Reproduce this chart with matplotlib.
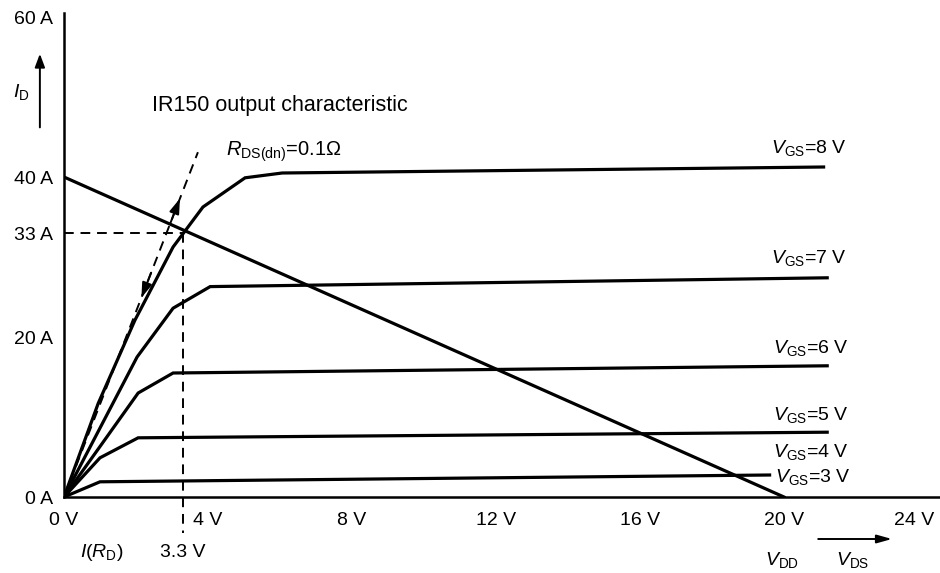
import matplotlib
matplotlib.use("Agg")
import matplotlib.pyplot as plt
import matplotlib.transforms as mtransforms

plt.rcParams['font.family'] = ['Liberation Sans', 'DejaVu Sans']
plt.rcParams['mathtext.fontset'] = 'custom'
plt.rcParams['mathtext.rm'] = 'Liberation Sans'
plt.rcParams['mathtext.it'] = 'Liberation Sans:italic'
plt.rcParams['mathtext.bf'] = 'Liberation Sans:bold'

# Output characteristic curves (V_DS in volts, I_D in amperes)
vgs8_v = [0, 0.95, 1.97, 3.03, 3.86, 5.03, 6.06, 21.1]
vgs8_i = [0, 11.7, 22.1, 31.25, 36.25, 39.9, 40.5, 41.25]
vgs7_v = [0, 2.03, 3.03, 4.06, 21.2]
vgs7_i = [0, 17.5, 23.6, 26.3, 27.4]
vgs6_v = [0, 2.06, 3.03, 21.2]
vgs6_i = [0, 13.0, 15.5, 16.4]
vgs5_v = [0, 1.0, 2.06, 21.2]
vgs5_i = [0, 4.9, 7.4, 8.1]
vgs3_v = [0, 1.0, 19.6]
vgs3_i = [0, 1.9, 2.75]

curves = [(vgs8_v, vgs8_i), (vgs7_v, vgs7_i), (vgs6_v, vgs6_i),
          (vgs5_v, vgs5_i), (vgs3_v, vgs3_i)]

# Curve labels: gate voltage, V position, I position
curve_labels = ["8", "7", "6", "5", "4", "3"]
curve_label_v = [19.65, 19.65, 19.7, 19.7, 19.7, 19.75]
curve_label_i = [43.6, 29.9, 18.6, 10.2, 5.6, 2.5]

# Load line: 40 A at V_DS = 0, zero current at V_DD = 20 V
load_v = [0, 20]
load_i = [40, 0]

# Operating point
op_v = 3.3
op_i = 33

# On-resistance line
rds_v = [0, 3.72]
rds_i = [0, 43.1]

x_ticks = [0, 4, 8, 12, 16, 20, 24]
x_tick_labels = ["0 V", "4 V", "8 V", "12 V", "16 V", "20 V", "24 V"]
y_ticks = [0, 20, 33, 40, 60]
y_tick_labels = ["0 A", "20 A", "33 A", "40 A", "60 A"]

fig = plt.figure(figsize=(9.4, 5.73), dpi=100)
ax = fig.add_axes([64 / 940, 76 / 573, 876 / 940, 497 / 573])
ax.set_xlim(0, 876 / 36)
ax.set_ylim(0, 497 / 8)

LW = 2.3
DASH = (0, (5, 3.5))
for v, i in curves:
    ax.plot(v, i, color='black', lw=LW, solid_joinstyle='miter', zorder=3)

ax.plot(load_v, load_i, color='black', lw=LW, zorder=3)

# Dashed R_DS(on) line with arrowheads
ax.plot(rds_v, rds_i, color='black', lw=1.4, ls=DASH, zorder=2)
slope = rds_i[1] / rds_v[1]
for tip, tail in [(3.22, 2.95), (2.15, 2.42)]:
    ax.annotate('', xy=(tip, tip * slope), xytext=(tail, tail * slope),
                arrowprops=dict(arrowstyle='-|>,head_length=0.9,head_width=0.3',
                                color='black', lw=1.4, shrinkA=0, shrinkB=0))

# Operating point projections
ax.plot([0, op_v], [op_i, op_i], color='black', lw=1.4, ls=DASH, zorder=2)
ax.plot([op_v, op_v], [op_i, -4.5], color='black', lw=1.4, ls=DASH,
        zorder=2, clip_on=False)

# Axes styling
for s in ['top', 'right']:
    ax.spines[s].set_visible(False)
ax.spines['left'].set_linewidth(1.8)
ax.spines['bottom'].set_linewidth(1.8)
ax.spines['left'].set_bounds(0, 60.5)

FS = 14
ax.set_xticks(x_ticks)
ax.set_xticklabels(x_tick_labels, fontsize=FS)
ax.set_yticks(y_ticks)
ax.set_yticklabels(y_tick_labels, fontsize=FS)
ax.tick_params(axis='both', length=0)
ax.tick_params(axis='x', pad=11)
ax.tick_params(axis='y', pad=8)
last = ax.get_xticklabels()[-1]
last.set_transform(last.get_transform() +
                   mtransforms.ScaledTranslation(-0.14, 0, fig.dpi_scale_trans))

for txt, v, i in zip(curve_labels, curve_label_v, curve_label_i):
    ax.text(v, i, r'$V_{\mathrm{GS}}$=' + txt + ' V', fontsize=FS,
            ha='left', va='center')

ax.text(2.45, 49.0, 'IR150 output characteristic', fontsize=15.5,
        ha='left', va='center')
ax.text(4.5, 43.1, r'$R_{\mathrm{DS(dn)}}$=0.1Ω', fontsize=14.5,
        ha='left', va='center')

# Y-axis quantity with arrow
ax.text(-1.2, 50.6, r'$I_{\mathrm{D}}$', fontsize=FS, ha='center', va='center',
        clip_on=False)
ax.annotate('', xy=(-0.67, 55.4), xytext=(-0.67, 46.2),
            arrowprops=dict(arrowstyle='-|>,head_length=0.8,head_width=0.3',
                            color='black', lw=1.4, shrinkA=0, shrinkB=0),
            annotation_clip=False)

# Bottom annotations
ax.text(1.05, -6.9, r'$I$($R_{\mathrm{D}}$)', fontsize=FS, ha='center',
        va='center', clip_on=False)
ax.text(op_v, -6.9, '3.3 V', fontsize=FS, ha='center', va='center', clip_on=False)
ax.text(19.95, -7.9, r'$V_{\mathrm{DD}}$', fontsize=FS, ha='center',
        va='center', clip_on=False)
ax.text(21.9, -7.9, r'$V_{\mathrm{DS}}$', fontsize=FS, ha='center',
        va='center', clip_on=False)
ax.annotate('', xy=(23.0, -5.25), xytext=(20.95, -5.25),
            arrowprops=dict(arrowstyle='-|>,head_length=0.9,head_width=0.25',
                            color='black', lw=1.4, shrinkA=0, shrinkB=0),
            annotation_clip=False)

fig.savefig('out.png', dpi=100)
